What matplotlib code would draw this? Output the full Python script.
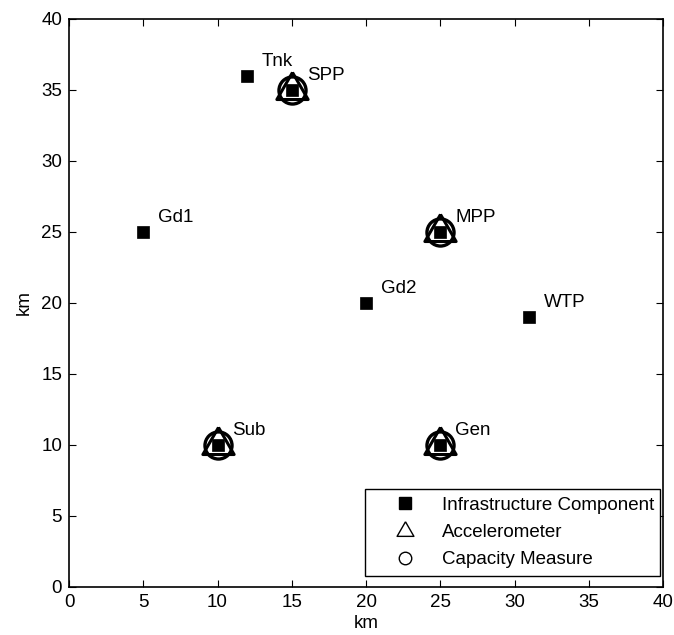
import numpy as np
import matplotlib.pyplot as plt
from matplotlib.lines import Line2D

plt.rcParams['font.family'] = ['Liberation Sans', 'DejaVu Sans']

# infrastructure components
names = ['Tnk', 'SPP', 'Gd1', 'MPP', 'Gd2', 'WTP', 'Sub', 'Gen']
comp_x = [12, 15, 5, 25, 20, 31, 10, 25]
comp_y = [36, 35, 25, 25, 20, 19, 10, 10]

# sensor sites
accel_x = [15, 25, 10, 25]
accel_y = [35, 25, 10, 10]
cap_x = [15, 25, 10, 25]
cap_y = [35, 25, 10, 10]

ticks = [0, 5, 10, 15, 20, 25, 30, 35, 40]

FS = 13.5
tri = [(0, 1), (-0.866, -0.5), (0.866, -0.5), (0, 1)]

fig = plt.figure(figsize=(6.74, 6.35), dpi=100)
ax = fig.add_axes([0.1024, 0.0756, 0.8813, 0.8945])

ax.plot(comp_x, comp_y, 's', color='k', ms=9, mew=0.5, linestyle='none')
ax.plot(accel_x, accel_y, marker=tri, color='k', mfc='none', ms=26,
        mew=2.2, linestyle='none')
ax.plot(cap_x, cap_y, 'o', color='k', mfc='none', ms=19.5, mew=2.4,
        linestyle='none')

for n, x, y in zip(names, comp_x, comp_y):
    ax.text(x + 1, y + 1, n, fontsize=FS, va='center', ha='left')

ax.set_xlim(0, 40)
ax.set_ylim(0, 40)
ax.set_xticks(ticks)
ax.set_yticks(ticks)
ax.tick_params(direction='in', length=5, width=0.8, top=True, right=True,
               labelsize=FS, pad=5)
for s in ax.spines.values():
    s.set_linewidth(1.2)
ax.set_xlabel('km', fontsize=FS, labelpad=3)
ax.set_ylabel('km', fontsize=FS, labelpad=6)

handles = [
    Line2D([], [], marker='s', color='k', ms=9, linestyle='none'),
    Line2D([], [], marker=tri, color='k', mfc='none', ms=14, mew=1,
           linestyle='none'),
    Line2D([], [], marker='o', color='k', mfc='none', ms=9, mew=1,
           linestyle='none'),
]
labels = ['Infrastructure Component', 'Accelerometer', 'Capacity Measure']
leg = ax.legend(handles, labels, loc='lower left',
                bbox_to_anchor=(0.498, 0.019, 0.497, 0.157), mode='expand',
                fontsize=FS, frameon=True, fancybox=False, framealpha=1,
                edgecolor='k', borderaxespad=0, handlelength=3.4,
                handletextpad=0.3, labelspacing=0.54, borderpad=0.42)
leg.get_frame().set_linewidth(1.0)

fig.savefig('out.png', dpi=100)
